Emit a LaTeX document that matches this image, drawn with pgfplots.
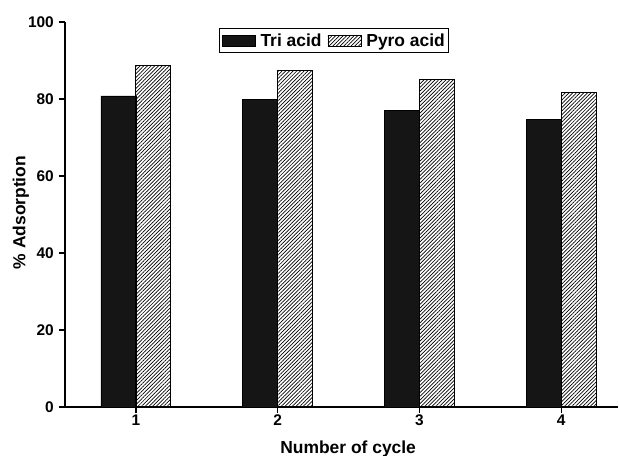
\documentclass[border=0pt]{standalone}
\usepackage{fontspec}
\setmainfont{Liberation Sans}
\usepackage{pgfplots}
\pgfplotsset{compat=1.18}
\usetikzlibrary{patterns.meta}
\definecolor{barblack}{HTML}{151515}
\pgfplotsset{mybarlegend/.style={legend image code/.code={\draw[##1,draw=black,line width=0.8bp] (0bp,-5.5bp) rectangle (33bp,5.5bp);}}}
\begin{document}
\begin{tikzpicture}
\begin{axis}[
  scale only axis, width=553bp, height=385bp,
  xmin=0.5, xmax=4.4, ymin=0, ymax=100,
  axis x line*=bottom, axis y line*=left,
  axis line style={line width=1.6bp, black},
  ybar=0pt, bar width=35bp,
  xtick={1,2,3,4}, ytick={0,20,40,60,80,100},
  tick style={line width=1.3bp, black},
  major tick length=6bp,
  tick align=outside,
  /pgf/number format/assume math mode=true,
  tick label style={font=\fontsize{15.5}{18}\selectfont\bfseries},
  xticklabel style={inner sep=1bp, yshift=-1bp},
  yticklabel style={inner sep=1bp, xshift=-4bp},
  xlabel={Number of cycle}, ylabel={\% Adsorption},
  label style={font=\fontsize{17.5}{20}\selectfont\bfseries},
  xlabel style={at={(axis description cs:0.512,0)}, anchor=base, yshift=-46bp},
  ylabel style={at={(axis description cs:-0.0796,0.505)}, anchor=center},
  legend columns=-1,
  legend style={at={(0.487,0.984)}, anchor=north, draw=black, line width=0.8bp,
    font=\fontsize{17.5}{20}\selectfont\bfseries, inner xsep=2bp, inner ysep=3bp,
    /tikz/every odd column/.append style={column sep=3bp},
    /tikz/every even column/.append style={column sep=4bp}},
]
\addplot[fill=barblack, draw=black, line width=0.6bp, mybarlegend] coordinates {(1,80.8) (2,79.8) (3,77.0) (4,74.7)};
\addlegendentry{Tri acid}
\addplot[pattern={Lines[angle=45,distance=2.6bp,line width=0.7bp]}, pattern color=black, draw=black, line width=0.9bp, mybarlegend] coordinates {(1,88.8) (2,87.4) (3,85.0) (4,81.6)};
\addlegendentry{Pyro acid}
\coordinate (SW) at (rel axis cs:0,0);
\coordinate (NE) at (rel axis cs:1,1);
\end{axis}
\pgfresetboundingbox
\path[use as bounding box] ([xshift=-65bp,yshift=-49bp]SW) rectangle ([xshift=1bp,yshift=22bp]NE);
\end{tikzpicture}
\end{document}
